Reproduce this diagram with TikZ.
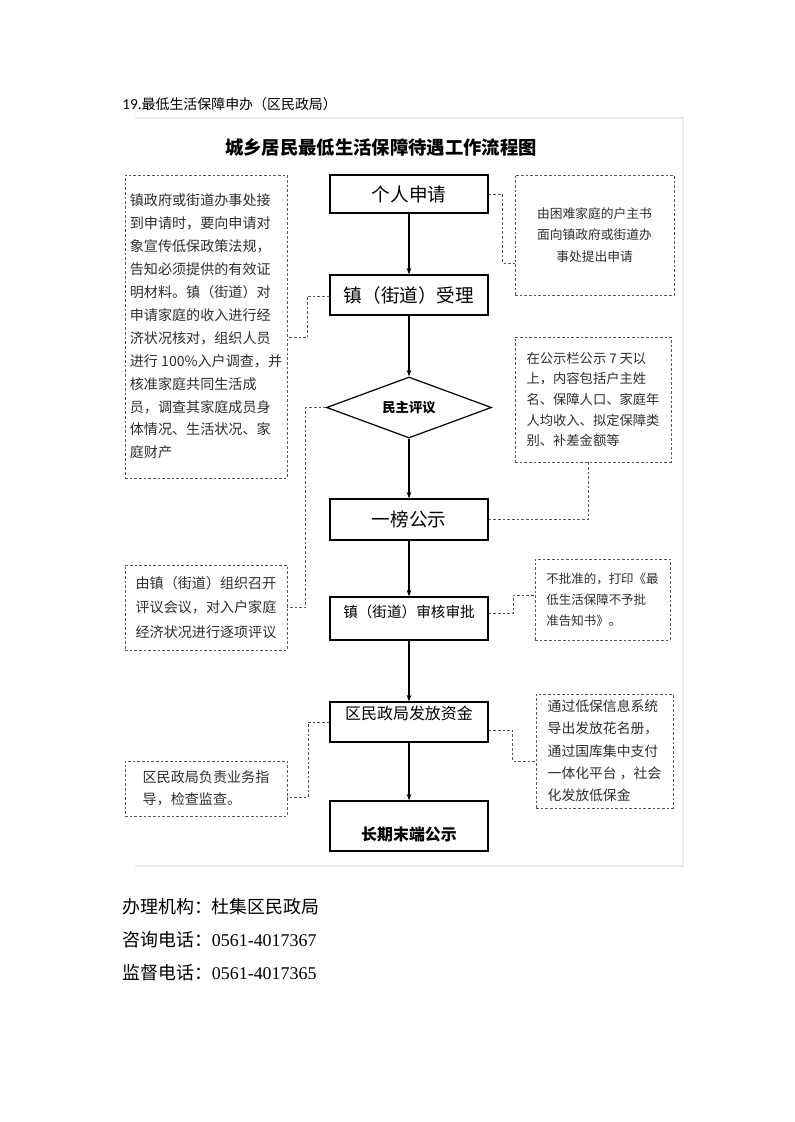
\documentclass[tikz,border=0pt]{standalone}
\usepackage{fontspec}
\setmainfont{Liberation Serif}
\newfontfamily\cjk{Noto Sans CJK SC}
\newfontfamily\calibri{Carlito}
\usepackage{xcolor}
\definecolor{ink}{HTML}{000000}
\definecolor{note}{HTML}{2E2E2E}
\definecolor{dashline}{HTML}{555555}
\definecolor{pageframe}{HTML}{ECECEC}
\usepackage{tikz}
\usetikzlibrary{arrows.meta, shapes.geometric, positioning}

\begin{document}
\begin{tikzpicture}[x=0.75bp, y=-0.75bp,
  stepbox/.style={draw=ink, line width=0.9bp, minimum width=118.5bp, inner sep=0pt, font=\cjk},
  notebox/.style={draw=dashline, line width=0.7bp, dash pattern=on 2bp off 1.5bp, inner sep=0pt, align=left, text=note},
  flow/.style={-{Stealth[length=5bp,width=3.6bp]}, line width=0.9bp},
  link/.style={draw=dashline, line width=0.7bp, dash pattern=on 2bp off 1.5bp}]
  \useasboundingbox (0,0) rectangle (794,1122);
  \draw[pageframe, line width=0.8bp] (135,118) -- (683,118) -- (683,866) -- (135,866);

  % heading
  \node[anchor=west, inner sep=0pt, font=\fontsize{10.5}{12}\selectfont] (header) at (122,104) {{\calibri\fontsize{11.5}{12}\selectfont 19.}{\cjk 最低生活保障申办（区民政局）}};
  \node[font=\cjk\bfseries\fontsize{13.8}{16}\selectfont] (title) at (381,147) {城乡居民最低生活保障待遇工作流程图};

  % main steps
  \node[stepbox, minimum height=28.5bp, font=\cjk\fontsize{14}{16}\selectfont] (apply) at (409,194) {个人申请};
  \node[stepbox, minimum height=30bp, font=\cjk\fontsize{14}{16}\selectfont] (accept) at (409,295) {镇（街道）受理};
  \node[draw=ink, line width=0.9bp, diamond, aspect=2.7, inner sep=0pt, minimum width=123.75bp, minimum height=45.75bp,
        font=\cjk\bfseries\fontsize{10}{12}\selectfont] (review) at (409,407.5) {民主评议};
  \node[stepbox, minimum height=30.75bp, font=\cjk\fontsize{14}{16}\selectfont] (publicize) at (409,519.5) {一榜公示};
  \node[stepbox, minimum height=32.25bp] (approve) at (409,618.5) {};
  \node[font=\cjk\fontsize{11}{13}\selectfont] (approveT) at (409,612) {镇（街道）审核审批};
  \node[stepbox, minimum height=30bp] (grant) at (409,722) {};
  \node[font=\cjk\fontsize{12}{14}\selectfont] (grantT) at (409,713.5) {区民政局发放资金};
  \node[stepbox, minimum height=37.5bp] (final) at (409,826) {};
  \node[font=\cjk\bfseries\fontsize{12}{14}\selectfont] (finalT) at (409,834) {长期末端公示};

  % notes
  \node[notebox, minimum width=121.5bp, minimum height=227.25bp, font=\cjk\fontsize{10.6}{17.25}\selectfont] (l1) at (206,326.5)
    {镇政府或街道办事处接\\到申请时，要向申请对\\象宣传低保政策法规，\\告知必须提供的有效证\\明材料。镇（街道）对\\申请家庭的收入进行经\\济状况核对，组织人员\\进行 100\%入户调查，并\\核准家庭共同生活成\\员，调查其家庭成员身\\体情况、生活状况、家\\庭财产};
  \node[notebox, align=center, minimum width=119.25bp, minimum height=90bp, font=\cjk\fontsize{9.6}{16}\selectfont] (r1) at (594.5,235)
    {由困难家庭的户主书\\面向镇政府或街道办\\事处提出申请};
  \node[notebox, minimum width=117bp, minimum height=93.75bp, font=\cjk\fontsize{10}{15.6}\selectfont] (r2) at (593,399.5)
    {在公示栏公示 7 天以\\上，内容包括户主姓\\名、保障人口、家庭年\\人均收入、拟定保障类\\别、补差金额等};
  \node[notebox, minimum width=121.5bp, minimum height=63.75bp, font=\cjk\fontsize{10.6}{18.75}\selectfont] (l2) at (206,607.5)
    {由镇（街道）组织召开\\评议会议，对入户家庭\\经济状况进行逐项评议};
  \node[notebox, minimum width=101.25bp, minimum height=60.75bp, font=\cjk\fontsize{9.4}{15.75}\selectfont] (r3) at (602.5,599.5)
    {不批准的，打印《最\\低生活保障不予批\\准告知书》。};
  \node[notebox, minimum width=121.5bp, minimum height=41.25bp, font=\cjk\fontsize{10.6}{16.5}\selectfont] (l3) at (206,788.5)
    {区民政局负责业务指\\导，检查监查。};
  \node[notebox, minimum width=102.75bp, minimum height=85.5bp, font=\cjk\fontsize{10.4}{16.8}\selectfont] (r4) at (604.5,751)
    {通过低保信息系统\\导出发放花名册，\\通过国库集中支付\\一体化平台 ，社会\\化发放低保金};

  % flow
  \draw[flow] (apply) -- (accept);
  \draw[flow] (accept) -- (review);
  \draw[flow] (review) -- (publicize);
  \draw[flow] (publicize) -- (approve);
  \draw[flow] (approve) -- (grant);
  \draw[flow] (grant) -- (final);

  % dashed links
  \draw[link] (apply.east) -- ++(14,0) |- ([yshift=-21bp]r1.west);
  \draw[link] ([yshift=-0.75bp]accept.west) -- ++(-22,0) |- ([yshift=-8.6bp]l1.east);
  \draw[link] (review.west) -- ++(-20,0) |- (l2.east);
  \draw[link] (publicize.east) -| ([xshift=-3.75bp]r2.south);
  \draw[link] ([yshift=4bp]approve.east) -- ++(25,0) |- ([yshift=3.4bp]r3.west);
  \draw[link] (grant.west) -- ++(-21,0) |- ([yshift=-6.4bp]l3.east);
  \draw[link] ([yshift=-6bp]grant.east) -- ++(24,0) |- ([yshift=-7.5bp]r4.west);

  % contact lines
  \node[anchor=west, inner sep=0pt, font=\fontsize{13.5}{16}\selectfont] (office) at (122,907) {{\cjk 办理机构：杜集区民政局}};
  \node[anchor=west, inner sep=0pt, font=\fontsize{13.5}{16}\selectfont] (consult) at (122,940) {{\cjk 咨询电话：}0561-4017367};
  \node[anchor=west, inner sep=0pt, font=\fontsize{13.5}{16}\selectfont] (supervise) at (122,973) {{\cjk 监督电话：}0561-4017365};
\end{tikzpicture}
\end{document}
